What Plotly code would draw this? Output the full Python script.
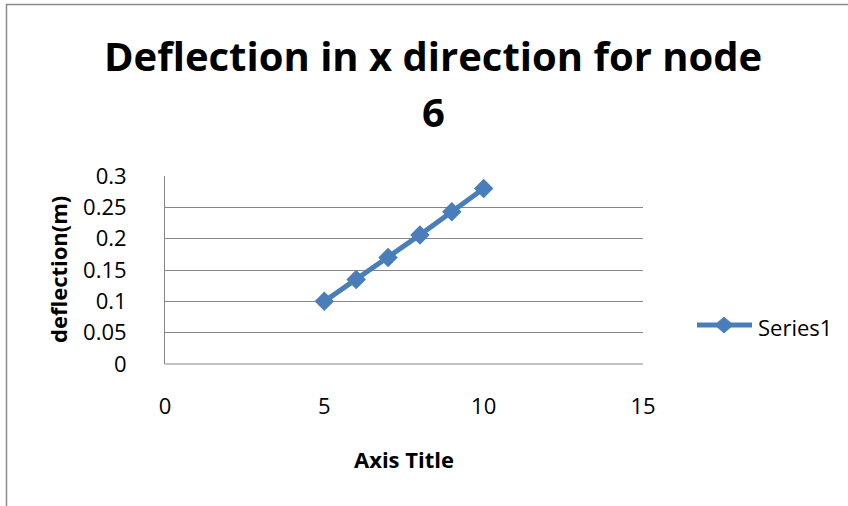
import plotly.graph_objects as go

# Node 6 deflection along x
load_steps = [5, 6, 7, 8, 9, 10]
deflection_m = [0.1, 0.135, 0.17, 0.206, 0.243, 0.28]
series_name = "Series1"

x_ticks = [0, 5, 10, 15]
y_ticks = [0, 0.05, 0.1, 0.15, 0.2, 0.25, 0.3]
y_tick_text = ["0", "0.05", "0.1", "0.15", "0.2", "0.25", "0.3"]

title_lines = ["Deflection in x direction for node", "6"]
x_title = "Axis Title"
y_title = "deflection(m)"

W, H = 848, 506
L, R, T, B = 165, 205, 176, 142
pw, ph = W - L - R, H - T - B

FONT = "Open Sans"
BLUE = "#4A7EBB"
GRID = "#868686"


def px_x(px):
    """Pixel column -> paper x."""
    return (px - L) / pw


def px_y(py):
    """Pixel row -> paper y."""
    return (H - B - py) / ph


fig = go.Figure(
    go.Scatter(
        x=load_steps,
        y=deflection_m,
        mode="lines+markers",
        name=series_name,
        line=dict(color=BLUE, width=5),
        marker=dict(symbol="diamond", size=15, color=BLUE),
        showlegend=False,
    )
)

annotations = [
    dict(text=f"<b>{title_lines[0]}</b>", x=px_x(433), y=px_y(55),
         font=dict(size=40)),
    dict(text=f"<b>{title_lines[1]}</b>", x=px_x(433), y=px_y(112),
         font=dict(size=40)),
    dict(text=f"<b>{x_title}</b>", x=px_x(404), y=px_y(459),
         font=dict(size=22)),
    dict(text=f"<b>{y_title}</b>", x=px_x(58), y=px_y(270),
         font=dict(size=22), textangle=-90),
    dict(text=series_name, x=px_x(756), y=px_y(327), xanchor="left",
         font=dict(size=22)),
]
for a in annotations:
    a.setdefault("xanchor", "center")
    a.update(xref="paper", yref="paper", yanchor="middle", showarrow=False)

# Legend glyph: line with a diamond in the middle
leg_y = px_y(325)
cx, cy = 724, 325
diamond = (f"M {px_x(cx - 9)} {px_y(cy)} L {px_x(cx)} {px_y(cy - 8)} "
           f"L {px_x(cx + 9)} {px_y(cy)} L {px_x(cx)} {px_y(cy + 8)} Z")

fig.update_layout(
    width=W,
    height=H,
    margin=dict(l=L, r=R, t=T, b=B),
    paper_bgcolor="white",
    plot_bgcolor="white",
    font=dict(family=FONT, color="black"),
    showlegend=False,
    xaxis=dict(
        range=[0, 15],
        tickvals=x_ticks,
        ticks="",
        showgrid=False,
        zeroline=False,
        showline=False,
        tickfont=dict(size=22),
        ticklabelstandoff=27,
    ),
    yaxis=dict(
        range=[0, 0.3],
        tickvals=y_ticks,
        ticktext=y_tick_text,
        ticks="",
        showgrid=True,
        gridcolor=GRID,
        gridwidth=1,
        zeroline=False,
        showline=True,
        linecolor=GRID,
        linewidth=1,
        tickfont=dict(size=22),
        ticklabelstandoff=33,
    ),
    annotations=annotations,
    shapes=[
        dict(type="rect", xref="paper", yref="paper",
             x0=px_x(6.5), x1=px_x(W + 10), y0=px_y(H + 10), y1=px_y(4.5),
             line=dict(color="#8C8C8C", width=1.5), layer="below"),
        dict(type="line", xref="paper", yref="paper",
             x0=0, x1=1, y0=0, y1=0, line=dict(color=GRID, width=1)),
        dict(type="line", xref="paper", yref="paper",
             x0=px_x(697), x1=px_x(752), y0=leg_y, y1=leg_y,
             line=dict(color=BLUE, width=5)),
        dict(type="path", xref="paper", yref="paper", path=diamond,
             fillcolor=BLUE, line=dict(color=BLUE, width=1)),
    ],
)

fig.write_html("out.html")
